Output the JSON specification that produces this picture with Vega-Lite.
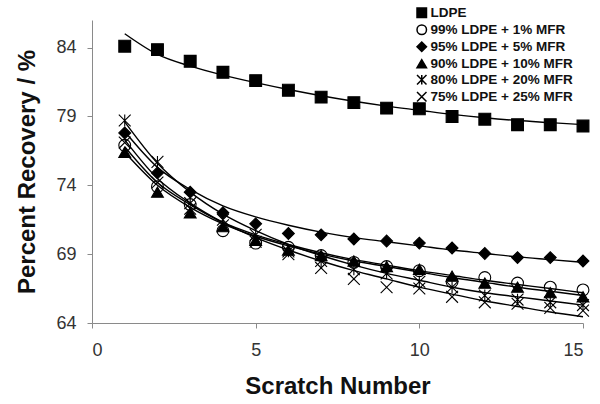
{
  "$schema": "https://vega.github.io/schema/vega-lite/v6.json",
  "width": 491,
  "height": 303,
  "autosize": {"type": "none"},
  "padding": {"left": 92, "top": 20, "right": 17, "bottom": 81},
  "background": "white",
  "config": {
    "view": {"stroke": null},
    "font": "Liberation Sans",
    "axis": {
      "grid": false,
      "domainColor": "#8a8a8a",
      "tickColor": "#8a8a8a",
      "tickSize": 5,
      "labelFont": "Liberation Sans",
      "labelFontSize": 18,
      "labelColor": "#333333",
      "titleFont": "Liberation Sans",
      "titleFontSize": 24,
      "titleFontWeight": "bold",
      "titleColor": "#111111"
    },
    "legend": {
      "labelFont": "Liberation Sans",
      "labelFontSize": 13.5,
      "labelFontWeight": "bold",
      "labelColor": "#111111",
      "symbolSize": 90,
      "labelOffset": 2,
      "rowPadding": 1,
      "padding": 0
    }
  },
  "data": {
    "values": [
      {"s": "LDPE", "x": 1, "r": 84.1, "f": 85.0},
      {"s": "LDPE", "x": 2, "r": 83.85, "f": 83.5},
      {"s": "LDPE", "x": 3, "r": 83.0, "f": 82.65},
      {"s": "LDPE", "x": 4, "r": 82.2, "f": 82.0},
      {"s": "LDPE", "x": 5, "r": 81.6, "f": 81.45},
      {"s": "LDPE", "x": 6, "r": 80.9, "f": 80.95},
      {"s": "LDPE", "x": 7, "r": 80.4, "f": 80.5},
      {"s": "LDPE", "x": 8, "r": 80.0, "f": 80.1},
      {"s": "LDPE", "x": 9, "r": 79.6, "f": 79.75},
      {"s": "LDPE", "x": 10, "r": 79.55, "f": 79.45},
      {"s": "LDPE", "x": 11, "r": 79.0, "f": 79.15},
      {"s": "LDPE", "x": 12, "r": 78.8, "f": 78.9},
      {"s": "LDPE", "x": 13, "r": 78.4, "f": 78.7},
      {"s": "LDPE", "x": 14, "r": 78.4, "f": 78.55},
      {"s": "LDPE", "x": 15, "r": 78.3, "f": 78.4},

      {"s": "99% LDPE + 1% MFR", "x": 1, "r": 76.9, "f": 76.8},
      {"s": "99% LDPE + 1% MFR", "x": 2, "r": 73.9, "f": 74.2},
      {"s": "99% LDPE + 1% MFR", "x": 3, "r": 72.6, "f": 72.6},
      {"s": "99% LDPE + 1% MFR", "x": 4, "r": 70.7, "f": 71.3},
      {"s": "99% LDPE + 1% MFR", "x": 5, "r": 69.8, "f": 70.4},
      {"s": "99% LDPE + 1% MFR", "x": 6, "r": 69.5, "f": 69.7},
      {"s": "99% LDPE + 1% MFR", "x": 7, "r": 68.9, "f": 69.1},
      {"s": "99% LDPE + 1% MFR", "x": 8, "r": 68.4, "f": 68.6},
      {"s": "99% LDPE + 1% MFR", "x": 9, "r": 68.1, "f": 68.2},
      {"s": "99% LDPE + 1% MFR", "x": 10, "r": 67.8, "f": 67.8},
      {"s": "99% LDPE + 1% MFR", "x": 11, "r": 67.0, "f": 67.45},
      {"s": "99% LDPE + 1% MFR", "x": 12, "r": 67.3, "f": 67.1},
      {"s": "99% LDPE + 1% MFR", "x": 13, "r": 66.9, "f": 66.8},
      {"s": "99% LDPE + 1% MFR", "x": 14, "r": 66.6, "f": 66.5},
      {"s": "99% LDPE + 1% MFR", "x": 15, "r": 66.4, "f": 66.2},

      {"s": "95% LDPE + 5% MFR", "x": 1, "r": 77.8, "f": 77.9},
      {"s": "95% LDPE + 5% MFR", "x": 2, "r": 74.9, "f": 75.3},
      {"s": "95% LDPE + 5% MFR", "x": 3, "r": 73.5, "f": 73.7},
      {"s": "95% LDPE + 5% MFR", "x": 4, "r": 72.0, "f": 72.5},
      {"s": "95% LDPE + 5% MFR", "x": 5, "r": 71.2, "f": 71.7},
      {"s": "95% LDPE + 5% MFR", "x": 6, "r": 70.5, "f": 71.1},
      {"s": "95% LDPE + 5% MFR", "x": 7, "r": 70.4, "f": 70.6},
      {"s": "95% LDPE + 5% MFR", "x": 8, "r": 70.1, "f": 70.2},
      {"s": "95% LDPE + 5% MFR", "x": 9, "r": 69.95, "f": 69.9},
      {"s": "95% LDPE + 5% MFR", "x": 10, "r": 69.8, "f": 69.6},
      {"s": "95% LDPE + 5% MFR", "x": 11, "r": 69.45, "f": 69.3},
      {"s": "95% LDPE + 5% MFR", "x": 12, "r": 69.05, "f": 69.05},
      {"s": "95% LDPE + 5% MFR", "x": 13, "r": 68.75, "f": 68.8},
      {"s": "95% LDPE + 5% MFR", "x": 14, "r": 68.75, "f": 68.6},
      {"s": "95% LDPE + 5% MFR", "x": 15, "r": 68.5, "f": 68.4},

      {"s": "90% LDPE + 10% MFR", "x": 1, "r": 76.4, "f": 76.4},
      {"s": "90% LDPE + 10% MFR", "x": 2, "r": 73.5, "f": 74.0},
      {"s": "90% LDPE + 10% MFR", "x": 3, "r": 72.0, "f": 72.4},
      {"s": "90% LDPE + 10% MFR", "x": 4, "r": 71.0, "f": 71.2},
      {"s": "90% LDPE + 10% MFR", "x": 5, "r": 70.0, "f": 70.3},
      {"s": "90% LDPE + 10% MFR", "x": 6, "r": 69.3, "f": 69.6},
      {"s": "90% LDPE + 10% MFR", "x": 7, "r": 68.9, "f": 69.0},
      {"s": "90% LDPE + 10% MFR", "x": 8, "r": 68.5, "f": 68.5},
      {"s": "90% LDPE + 10% MFR", "x": 9, "r": 68.1, "f": 68.1},
      {"s": "90% LDPE + 10% MFR", "x": 10, "r": 67.9, "f": 67.7},
      {"s": "90% LDPE + 10% MFR", "x": 11, "r": 67.4, "f": 67.3},
      {"s": "90% LDPE + 10% MFR", "x": 12, "r": 66.9, "f": 66.95},
      {"s": "90% LDPE + 10% MFR", "x": 13, "r": 66.6, "f": 66.6},
      {"s": "90% LDPE + 10% MFR", "x": 14, "r": 66.2, "f": 66.3},
      {"s": "90% LDPE + 10% MFR", "x": 15, "r": 65.9, "f": 66.0},

      {"s": "80% LDPE + 20% MFR", "x": 1, "r": 78.7, "f": 78.6},
      {"s": "80% LDPE + 20% MFR", "x": 2, "r": 75.7, "f": 75.6},
      {"s": "80% LDPE + 20% MFR", "x": 3, "r": 72.7, "f": 73.5},
      {"s": "80% LDPE + 20% MFR", "x": 4, "r": 71.5, "f": 71.9},
      {"s": "80% LDPE + 20% MFR", "x": 5, "r": 70.4, "f": 70.7},
      {"s": "80% LDPE + 20% MFR", "x": 6, "r": 69.2, "f": 69.7},
      {"s": "80% LDPE + 20% MFR", "x": 7, "r": 68.5, "f": 68.9},
      {"s": "80% LDPE + 20% MFR", "x": 8, "r": 67.9, "f": 68.2},
      {"s": "80% LDPE + 20% MFR", "x": 9, "r": 67.6, "f": 67.6},
      {"s": "80% LDPE + 20% MFR", "x": 10, "r": 67.0, "f": 67.1},
      {"s": "80% LDPE + 20% MFR", "x": 11, "r": 66.6, "f": 66.6},
      {"s": "80% LDPE + 20% MFR", "x": 12, "r": 66.0, "f": 66.2},
      {"s": "80% LDPE + 20% MFR", "x": 13, "r": 65.7, "f": 65.9},
      {"s": "80% LDPE + 20% MFR", "x": 14, "r": 65.5, "f": 65.6},
      {"s": "80% LDPE + 20% MFR", "x": 15, "r": 65.3, "f": 65.3},

      {"s": "75% LDPE + 25% MFR", "x": 1, "r": 77.1, "f": 77.3},
      {"s": "75% LDPE + 25% MFR", "x": 2, "r": 74.2, "f": 74.5},
      {"s": "75% LDPE + 25% MFR", "x": 3, "r": 72.3, "f": 72.7},
      {"s": "75% LDPE + 25% MFR", "x": 4, "r": 71.1, "f": 71.3},
      {"s": "75% LDPE + 25% MFR", "x": 5, "r": 69.9, "f": 70.2},
      {"s": "75% LDPE + 25% MFR", "x": 6, "r": 69.0, "f": 69.3},
      {"s": "75% LDPE + 25% MFR", "x": 7, "r": 68.0, "f": 68.5},
      {"s": "75% LDPE + 25% MFR", "x": 8, "r": 67.2, "f": 67.8},
      {"s": "75% LDPE + 25% MFR", "x": 9, "r": 66.6, "f": 67.2},
      {"s": "75% LDPE + 25% MFR", "x": 10, "r": 66.5, "f": 66.6},
      {"s": "75% LDPE + 25% MFR", "x": 11, "r": 65.9, "f": 66.1},
      {"s": "75% LDPE + 25% MFR", "x": 12, "r": 65.5, "f": 65.6},
      {"s": "75% LDPE + 25% MFR", "x": 13, "r": 65.4, "f": 65.2},
      {"s": "75% LDPE + 25% MFR", "x": 14, "r": 65.1, "f": 64.8},
      {"s": "75% LDPE + 25% MFR", "x": 15, "r": 64.9, "f": 64.45}
    ]
  },
  "encoding": {
    "x": {
      "field": "x",
      "type": "quantitative",
      "scale": {"domain": [0, 15], "nice": false, "zero": false},
      "axis": {"values": [0, 5, 10, 15], "title": "Scratch Number", "labelPadding": 13, "titlePadding": 15}
    }
  },
  "layer": [
    {
      "mark": {"type": "line", "color": "black", "strokeWidth": 1.4, "interpolate": "monotone"},
      "encoding": {
        "y": {
          "field": "f",
          "type": "quantitative",
          "scale": {"domain": [64, 86], "nice": false, "zero": false},
          "axis": {"values": [64, 69, 74, 79, 84], "title": "Percent Recovery / %", "labelPadding": 11, "titlePadding": 16}
        },
        "detail": {"field": "s"}
      }
    },
    {
      "mark": {"type": "point", "filled": true, "stroke": "black", "strokeWidth": 1.1, "size": 140, "opacity": 1},
      "encoding": {
        "y": {"field": "r", "type": "quantitative"},
        "shape": {
          "field": "s",
          "type": "nominal",
          "scale": {
            "domain": ["LDPE", "99% LDPE + 1% MFR", "95% LDPE + 5% MFR", "90% LDPE + 10% MFR", "80% LDPE + 20% MFR", "75% LDPE + 25% MFR"],
            "range": ["square", "circle", "diamond", "triangle-up", "M-1,-1L1,1M-1,1L1,-1M0,-1L0,1", "M-1,-1L1,1M-1,1L1,-1"]
          },
          "legend": {
            "title": null, "orient": "none", "legendX": 323, "legendY": -14,
            "encode": {"symbols": {"update": {"stroke": {"value": "black"}, "strokeWidth": {"value": 1}, "opacity": {"value": 1}}}}
          }
        },
        "fill": {
          "field": "s",
          "type": "nominal",
          "scale": {
            "domain": ["LDPE", "99% LDPE + 1% MFR", "95% LDPE + 5% MFR", "90% LDPE + 10% MFR", "80% LDPE + 20% MFR", "75% LDPE + 25% MFR"],
            "range": ["black", "transparent", "black", "black", "transparent", "transparent"]
          },
          "legend": {
            "title": null, "orient": "none", "legendX": 323, "legendY": -14,
            "encode": {"symbols": {"update": {"stroke": {"value": "black"}, "strokeWidth": {"value": 1}, "opacity": {"value": 1}}}}
          }
        }
      }
    }
  ]
}
